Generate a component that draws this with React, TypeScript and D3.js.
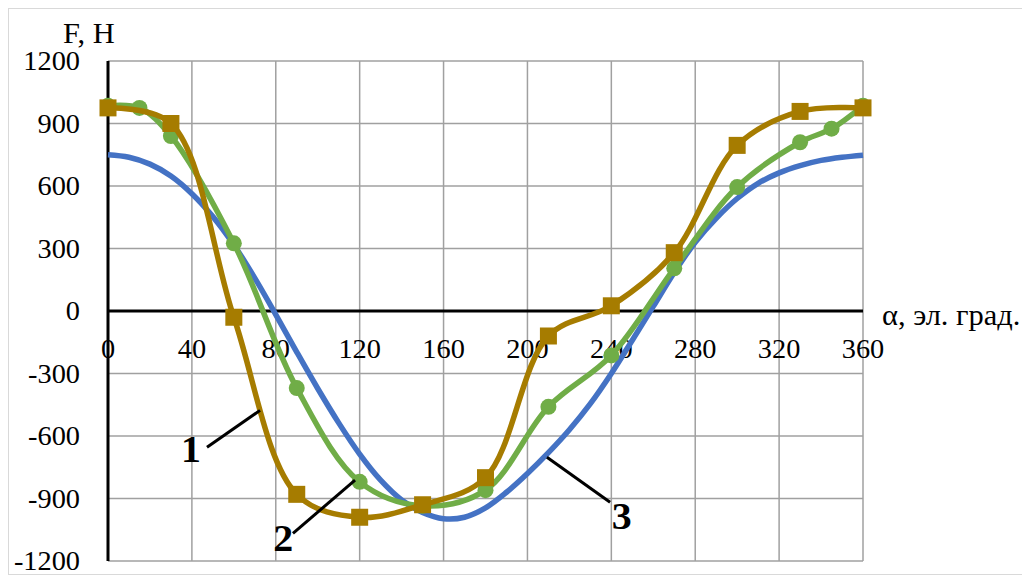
import React from 'react';
import * as d3 from 'd3';

// curve 3 (blue, no markers)
const blueAngles = [0, 10, 20, 30, 40, 50, 60, 70, 80, 90, 100, 110, 120, 130, 140, 150, 160, 170, 180,
  190, 200, 210, 220, 230, 240, 250, 260, 270, 280, 290, 300, 310, 320, 330, 340, 350, 360];
const blueValues = [750, 738, 705, 648, 563, 453, 318, 158, -17, -197, -372, -537, -687, -812, -907, -967,
  -997, -990, -945, -870, -780, -680, -570, -445, -300, -140, 22, 185, 330, 445, 540, 613, 663, 698, 723, 738, 748];

// curve 2 (green, circles)
const greenAngles = [0, 15, 30, 60, 90, 120, 150, 180, 210, 240, 270, 300, 330, 345, 360];
const greenValues = [985, 975, 840, 325, -370, -820, -935, -860, -460, -213, 205, 595, 810, 875, 985];

// curve 1 (brown, squares)
const brownAngles = [0, 30, 60, 90, 120, 150, 180, 210, 240, 270, 300, 330, 360];
const brownValues = [975, 900, -30, -880, -990, -930, -800, -120, 25, 280, 795, 958, 975];

const xTicks = [0, 40, 80, 120, 160, 200, 240, 280, 320, 360];
const yTicks = [-1200, -900, -600, -300, 0, 300, 600, 900, 1200];

// callouts: label, leader line start/end and text anchor in data units
const calloutLabels = ['1', '2', '3'];
const calloutFrom = [[47.2, -654], [88.2, -1067], [209.3, -702]];
const calloutTo = [[72.5, -477], [117.8, -812], [239.4, -918]];
const calloutText = [[39.6, -727], [83.5, -1153], [245, -1044]];

const W = 1022;
const H = 567;
const FONT = "'Liberation Serif', 'Times New Roman', serif";
const SX = 1.05;

const T = ({ x, y, anchor = 'start', size = 27, weight = 'normal', children }: any) => (
  <text transform={`translate(${x},${y}) scale(${SX},1)`} textAnchor={anchor}
    fontFamily={FONT} fontSize={size} fontWeight={weight} fill="#000">{children}</text>
);

export default function App() {
  const x = d3.scaleLinear().domain([0, 360]).range([100, 855]);
  const y = d3.scaleLinear().domain([-1200, 1200]).range([553, 53]);

  const line = d3.line<[number, number]>()
    .x(d => x(d[0]))
    .y(d => y(d[1]))
    .curve(d3.curveCatmullRom.alpha(0.5));

  const blue = blueAngles.map((a, i) => [a, blueValues[i]] as [number, number]);
  const green = greenAngles.map((a, i) => [a, greenValues[i]] as [number, number]);
  const brown = brownAngles.map((a, i) => [a, brownValues[i]] as [number, number]);

  const blueC = '#4472c4';
  const greenC = '#70ad47';
  const brownC = '#a67c00';

  return (
    <svg width={W} height={H} style={{ display: 'block' }}>
      <rect x={0.5} y={0.5} width={1015} height={566} fill="#fff" stroke="#d9d9d9" />

      {/* grid */}
      {xTicks.map(t => (
        <line key={'gx' + t} x1={x(t)} x2={x(t)} y1={y(1200)} y2={y(-1200)} stroke="#a0a0a0" strokeWidth={1.5} />
      ))}
      {yTicks.map(t => (
        <line key={'gy' + t} x1={x(0)} x2={x(360)} y1={y(t)} y2={y(t)} stroke="#a0a0a0" strokeWidth={1.5} />
      ))}
      {/* axes */}
      <line x1={x(0)} x2={x(360)} y1={y(0)} y2={y(0)} stroke="#000" strokeWidth={3} />
      <line x1={x(0)} x2={x(0)} y1={y(1200)} y2={y(-1200)} stroke="#000" strokeWidth={3} />

      {/* tick labels */}
      {yTicks.map(t => (
        <T key={'ly' + t} x={72} y={y(t) + 9} anchor="end">{t}</T>
      ))}
      {xTicks.map(t => (
        <T key={'lx' + t} x={x(t)} y={350} anchor="middle">{t}</T>
      ))}

      <T x={55} y={35} size={29}>F, H</T>
      <T x={874} y={317} size={29}>α, эл. град.</T>

      {/* series */}
      <path d={line(blue) || ''} fill="none" stroke={blueC} strokeWidth={5.5} />
      <path d={line(green) || ''} fill="none" stroke={greenC} strokeWidth={5.5} />
      {green.map((d, i) => (
        <circle key={'gc' + i} cx={x(d[0])} cy={y(d[1])} r={8} fill={greenC} />
      ))}
      <path d={line(brown) || ''} fill="none" stroke={brownC} strokeWidth={5.5} />
      {brown.map((d, i) => (
        <rect key={'bs' + i} x={x(d[0]) - 8.5} y={y(d[1]) - 8.5} width={17} height={17} fill={brownC} />
      ))}

      {/* callouts */}
      {calloutLabels.map((lab, i) => (
        <g key={'c' + lab}>
          <line x1={x(calloutFrom[i][0])} y1={y(calloutFrom[i][1])} x2={x(calloutTo[i][0])} y2={y(calloutTo[i][1])}
            stroke="#000" strokeWidth={3} />
          <T x={x(calloutText[i][0])} y={y(calloutText[i][1])} anchor="middle" size={38} weight="bold">{lab}</T>
        </g>
      ))}
    </svg>
  );
}
